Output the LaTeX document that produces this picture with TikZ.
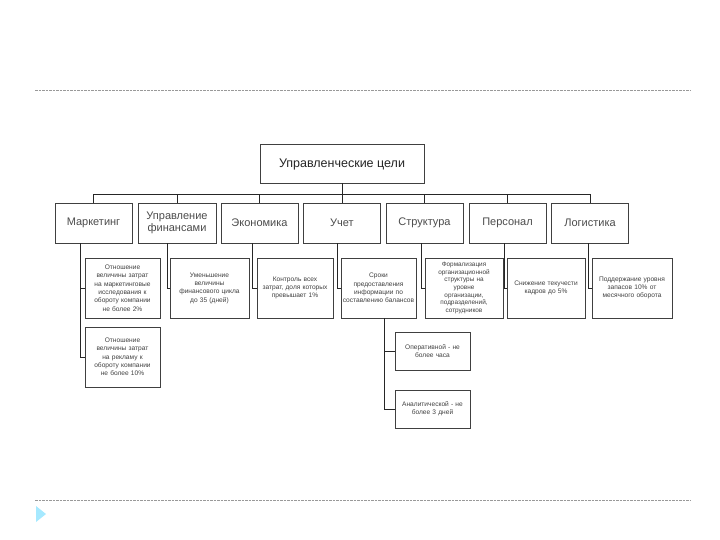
\documentclass[tikz,border=0pt]{standalone}
\usepackage{fontspec}
\setmainfont{Liberation Sans}
\begin{document}
\begin{tikzpicture}[x=1pt,y=-1pt,
  box/.style={draw=black!75,line width=0.7pt,fill=white,inner sep=1pt,outer sep=0pt,align=center},
  topbox/.style={box,font=\fontsize{12.5}{14}\selectfont,text=black!85},
  lvone/.style={box,font=\fontsize{11}{12.5}\selectfont,text=black!70},
  lvtwo/.style={box,font=\fontsize{6.6}{8.3}\selectfont,text=black!75},
  conn/.style={draw=black!85,line width=0.8pt},
  sep/.style={draw=black!40,line width=0.6pt,dash pattern=on 2.5pt off 1pt}]
\useasboundingbox (0,0) rectangle (720,540);
% separators
\coordinate (sepAl) at (35,90);
\coordinate (sepAr) at (690,90);
\coordinate (sepBl) at (35,500);
\coordinate (sepBr) at (690,500);
\draw[sep] (sepAl) -- (sepAr);
\draw[sep] (sepBl) -- (sepBr);
\fill[fill=blue!25!cyan!35!white] (36,506) -- (46,514) -- (36,522) -- cycle;
% top
\node[topbox,minimum width=164,minimum height=39] (top) at (342,164) {Управленческие цели};
\coordinate (hl) at (342,194);
% level 1
\node[lvone,minimum width=77,minimum height=40,text width=74] (m) at (93.5,223) {Маркетинг};
\node[lvone,minimum width=78,minimum height=40,text width=75] (f) at (177,223) {Управление\\финансами};
\node[lvone,minimum width=77,minimum height=40,text width=74] (e) at (259.5,223) {Экономика};
\node[lvone,minimum width=77,minimum height=40,text width=74] (u) at (342,223) {Учет};
\node[lvone,minimum width=77,minimum height=40,text width=74] (s) at (424.5,223) {Структура};
\node[lvone,minimum width=77,minimum height=40,text width=74] (p) at (507.5,223) {Персонал};
\node[lvone,minimum width=77,minimum height=40,text width=74] (l) at (590,223) {Логистика};
\draw[conn] (top.south) -- (hl);
\foreach \n in {m,f,e,u,s,p,l} {\draw[conn] (\n.north) |- (hl);}
% level 2
\node[lvtwo,minimum width=75,minimum height=60,text width=73] (m1) at (122.5,288) {Отношение\\величины затрат\\на маркетинговые\\исследования к\\обороту компании\\не более 2\%};
\node[lvtwo,minimum width=75,minimum height=60,text width=73] (m2) at (122.5,357) {Отношение\\величины затрат\\на рекламу к\\обороту компании\\не более 10\%};
\node[lvtwo,minimum width=79,minimum height=60,text width=76] (f1) at (209.5,288) {Уменьшение\\величины\\финансового цикла\\до 35 (дней)};
\node[lvtwo,minimum width=76,minimum height=60,text width=74] (e1) at (295,288) {Контроль всех\\затрат, доля которых\\превышает 1\%};
\node[lvtwo,minimum width=75,minimum height=60,text width=73] (u1) at (378.5,288) {Сроки\\предоставления\\информации по\\составлению балансов};
\node[lvtwo,font=\fontsize{6.4}{7.6}\selectfont,minimum width=78,minimum height=60,text width=76] (s1) at (464,288) {Формализация\\организационной\\структуры на\\уровне\\организации,\\подразделений,\\сотрудников};
\node[lvtwo,minimum width=78,minimum height=60,text width=76] (p1) at (546,288) {Снижение текучести\\кадров до 5\%};
\node[lvtwo,minimum width=80,minimum height=60,text width=78] (l1) at (632,288) {Поддержание уровня\\запасов 10\% от\\месячного оборота};
% level 3
\node[lvtwo,minimum width=75,minimum height=38,text width=73] (u2) at (432.5,351) {Оперативной - не\\более часа};
\node[lvtwo,minimum width=75,minimum height=38,text width=73] (u3) at (432.5,409) {Аналитической - не\\более 3 дней};
% connectors to level 2
\draw[conn] ([xshift=-13.5]m.south) |- (m1.west);
\draw[conn] ([xshift=-13.5]m.south) |- (m2.west);
\draw[conn] ([xshift=-10]f.south) |- (f1.west);
\draw[conn] ([xshift=-7.5]e.south) |- (e1.west);
\draw[conn] ([xshift=-5]u.south) |- (u1.west);
\draw[conn] ([xshift=-3.5]s.south) |- (s1.west);
\draw[conn] ([xshift=-3.5]p.south) |- (p1.west);
\draw[conn] ([xshift=-2]l.south) |- (l1.west);
\draw[conn] ([xshift=5.5]u1.south) |- (u2.west);
\draw[conn] ([xshift=5.5]u1.south) |- (u3.west);
\end{tikzpicture}
\end{document}
